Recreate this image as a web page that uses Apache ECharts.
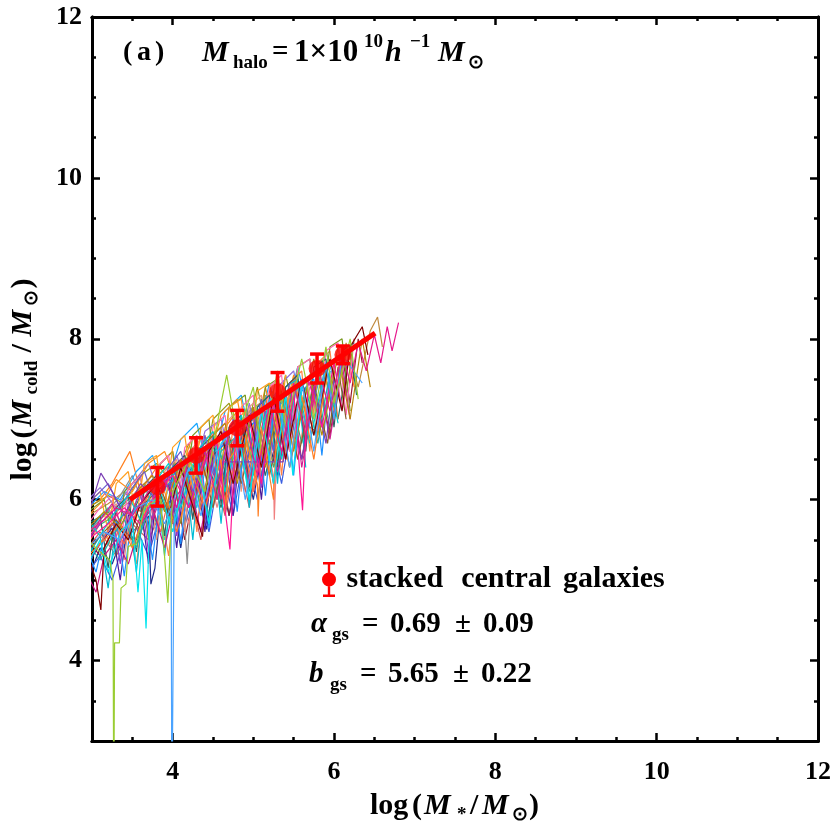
<!DOCTYPE html>
<html>
<head>
<meta charset="utf-8">
<script src="https://cdn.jsdelivr.net/npm/echarts@6/dist/echarts.min.js"></script>
<style>
  html, body { margin: 0; padding: 0; background: #fff; }
  #chart { width: 834px; height: 834px; }
</style>
</head>
<body>
<div id="chart"></div>
<script>
// axis ticks
const xMajor = [4, 6, 8, 10, 12];
const xMinor = [3.5, 4.5, 5, 5.5, 6.5, 7, 7.5, 8.5, 9, 9.5, 10.5, 11, 11.5];
const yMajor = [4, 6, 8, 10, 12];
const yMinor = [3.5, 4.5, 5, 5.5, 6.5, 7, 7.5, 8.5, 9, 9.5, 10.5, 11, 11.5];

// stacked central galaxies (points + error bars)
const stackX = [3.81, 4.29, 4.80, 5.30, 5.79, 6.11];
const stackY = [6.16, 6.55, 6.89, 7.34, 7.63, 7.80];
const stackErr = [0.24, 0.22, 0.22, 0.24, 0.18, 0.11];

// fitted relation
const fitX = [3.47, 6.51];
const fitY = [6.00, 8.07];

// individual galaxy tracks, [logM*, logMcold]
const trackMagenta = [[2.95,5.6],[3.15,5.75],[3.3,5.9],[3.5,5.8],[3.7,6.1],[3.9,6.25],[4.05,5.9],[4.2,6.5],[4.4,6.6],[4.55,6.0],[4.7,6.85],[4.9,7.0],[5.05,6.3],[5.2,7.2],[5.35,6.6],[5.5,7.45],[5.65,6.8],[5.8,7.65],[5.95,7.1],[6.1,7.85],[6.2,7.45],[6.3,7.95],[6.4,7.6],[6.5,8.05],[6.58,7.7],[6.66,8.15],[6.72,7.85],[6.8,8.2]];
const trackTan = [[2.95,5.8],[3.2,5.95],[3.4,6.1],[3.6,5.85],[3.8,6.3],[4.0,6.45],[4.2,6.1],[4.4,6.75],[4.6,6.9],[4.75,6.2],[4.95,7.1],[5.15,7.25],[5.3,6.5],[5.5,7.5],[5.65,6.7],[5.85,7.75],[6.0,7.0],[6.15,7.95],[6.3,7.4],[6.45,8.1],[6.54,8.27],[6.6,7.9]];
const trackDarkRed = [[2.95,5.5],[3.1,5.3],[3.25,5.6],[3.45,5.9],[3.6,5.6],[3.8,6.15],[4.0,6.3],[4.15,5.5],[4.35,6.5],[4.55,6.7],[4.7,5.8],[4.9,6.9],[5.1,7.15],[5.25,6.2],[5.45,7.35],[5.6,6.5],[5.8,7.55],[5.95,6.8],[6.1,7.8],[6.2,7.2],[6.3,8.0],[6.35,7.7]];
const trackTeal = [[2.95,5.7],[3.2,5.85],[3.4,5.6],[3.6,6.05],[3.8,6.2],[4.0,5.7],[4.2,6.45],[4.4,6.6],[4.6,5.9],[4.8,6.85],[5.0,7.0],[5.15,6.3],[5.35,7.25],[5.55,7.45],[5.7,6.9],[5.79,6.84],[5.9,7.65],[6.05,7.0],[6.2,7.9],[6.28,7.3]];
const trackLime = [[2.95,5.5],[3.1,5.35],[3.22,5.25],[3.26,5.0],[3.27,2.0],[3.28,4.22],[3.34,4.22],[3.36,4.9],[3.42,4.95],[3.45,5.42],[3.55,5.45],[3.65,5.9],[3.72,5.95],[3.85,6.0],[3.94,4.72],[4.0,6.1],[4.2,6.5],[4.4,6.1],[4.6,7.2],[4.67,7.55],[4.8,6.8],[5.0,7.4],[5.1,6.6],[5.3,7.6],[5.4,6.9],[5.6,7.75],[5.75,7.0],[5.9,7.9],[6.0,7.2],[6.2,8.0],[6.3,7.25]];
const trackBlue = [[2.95,5.4],[3.15,5.6],[3.35,5.5],[3.55,5.9],[3.75,6.0],[3.9,5.7],[3.98,5.9],[3.99,2.0],[4.02,5.8],[4.2,6.4],[4.35,5.8],[4.55,6.6],[4.75,6.9],[4.9,6.0],[5.1,7.1],[5.3,7.35],[5.45,6.4],[5.6,7.5],[5.75,6.6],[5.9,7.7],[6.0,7.0],[6.1,7.8],[6.35,7.45]];
const trackCyan = [[2.95,5.2],[3.1,5.5],[3.2,5.1],[3.35,5.6],[3.5,5.75],[3.57,4.85],[3.62,5.5],[3.67,4.4],[3.72,5.9],[3.85,6.1],[4.0,5.6],[4.15,6.3],[4.3,6.5],[4.45,5.7],[4.6,6.7],[4.8,6.95],[4.95,6.0],[5.1,7.1],[5.25,6.2],[5.4,7.3],[5.49,6.3],[5.6,7.4],[5.8,7.65]];
const trackCyan2 = [[2.95,5.6],[3.2,5.9],[3.4,5.4],[3.55,6.0],[3.75,6.2],[3.9,5.5],[4.1,6.4],[4.3,5.9],[4.5,6.8],[4.7,6.3],[4.9,7.1],[5.05,6.4],[5.25,7.3],[5.4,6.6],[5.55,7.5]];
const trackOrange = [[2.95,5.9],[3.1,6.0],[3.25,6.2],[3.47,6.6],[3.6,6.1],[3.8,6.4],[4.0,6.6],[4.15,5.9],[4.35,6.8],[4.5,6.0],[4.65,6.9],[4.8,7.1],[4.95,6.3],[5.15,7.3],[5.3,6.5],[5.5,7.5],[5.65,6.8],[5.85,7.7],[6.0,7.1],[6.15,7.9],[6.25,7.4]];
const trackOrange2 = [[2.95,5.3],[3.15,5.5],[3.35,5.7],[3.5,5.4],[3.7,5.95],[3.9,6.1],[4.05,5.6],[4.25,6.3],[4.4,5.9],[4.6,6.5],[4.65,5.84],[4.7,6.5],[4.9,6.8],[5.05,6.19],[5.06,5.79],[5.1,6.9],[5.25,6.0],[5.3,7.1],[5.45,6.4],[5.6,7.3],[5.75,6.5],[5.9,7.5]];
const trackPurple = [[2.95,5.8],[3.11,6.33],[3.25,6.1],[3.4,5.8],[3.6,6.2],[3.8,6.0],[4.0,6.4],[4.2,5.9],[4.4,6.6],[4.55,6.2],[4.62,6.47],[5.37,6.47],[5.45,7.1],[5.6,6.5],[5.75,7.4],[5.9,6.7],[6.0,7.5]];
const trackNavy = [[2.95,5.0],[3.1,5.4],[3.25,5.2],[3.4,5.6],[3.55,5.5],[3.7,5.8],[3.73,4.95],[3.78,5.15],[3.85,5.9],[4.0,6.0],[4.1,5.4],[4.25,6.3],[4.42,5.63],[4.55,6.5],[4.7,5.8],[4.85,6.7],[5.0,6.0],[5.15,6.9],[5.3,6.3],[5.45,7.1]];
const trackGray = [[2.95,5.6],[3.15,5.8],[3.35,6.05],[3.5,6.3],[3.65,5.9],[3.85,6.3],[4.0,6.1],[4.1,6.5],[4.18,5.2],[4.25,6.4],[4.45,6.7],[4.6,6.0],[4.8,6.9],[5.0,7.15],[5.1,6.3],[5.3,7.35],[5.45,6.6],[5.6,7.5],[5.75,6.8],[5.9,7.7]];
const trackMaroon = [[2.95,5.3],[3.05,5.0],[3.11,4.63],[3.15,5.4],[3.3,5.7],[3.45,5.5],[3.6,5.95],[3.8,6.2],[3.95,5.8],[4.1,6.4],[4.37,5.54],[4.45,6.6],[4.6,6.85],[4.75,6.2],[4.95,7.05],[5.1,6.4],[5.25,7.3],[5.4,6.5],[5.6,7.5],[5.75,6.8],[5.95,7.75],[6.1,7.1],[6.2,7.9],[6.35,8.15],[6.42,7.8]];
const trackPink = [[2.95,5.5],[3.2,5.7],[3.4,5.9],[3.6,5.7],[3.8,6.1],[4.0,6.3],[4.2,5.9],[4.4,6.5],[4.55,6.7],[4.71,5.38],[4.78,6.8],[4.95,7.0],[5.1,6.2],[5.25,7.2],[5.4,6.5],[5.5,7.35],[5.61,5.87],[5.68,7.5],[5.85,6.9],[6.0,7.7],[6.1,7.12]];
const trackSalmon = [[2.95,5.7],[3.15,5.5],[3.3,5.85],[3.5,6.0],[3.65,5.6],[3.85,6.2],[4.05,6.35],[4.2,5.7],[4.4,6.55],[4.55,5.9],[4.75,6.75],[4.9,6.1],[5.1,7.0],[5.25,6.3],[5.26,5.75],[5.3,6.9],[5.4,7.2],[5.55,6.5],[5.7,7.4]];
const trackOlive = [[2.95,5.9],[3.2,6.05],[3.4,5.95],[3.6,6.3],[3.8,6.45],[4.0,6.2],[4.2,6.7],[4.35,6.2],[4.5,7.0],[4.7,7.2],[4.85,6.6],[5.05,7.4],[5.2,6.7],[5.4,7.55],[5.55,6.9],[5.75,7.75],[5.9,7.1],[6.05,7.9],[6.15,7.3],[6.25,8.0]];
const trackRoyal = [[2.95,5.1],[3.1,5.3],[3.25,5.0],[3.4,5.5],[3.55,5.65],[3.7,5.3],[3.85,5.85],[4.0,6.0],[4.1,5.5],[4.3,6.2],[4.45,5.6],[4.6,6.45],[4.75,5.8],[4.9,6.65],[5.05,6.0],[5.2,6.9],[5.35,6.2],[5.5,7.1]];
const trackSky = [[2.95,5.9],[3.15,6.1],[3.35,6.0],[3.55,6.35],[3.75,6.55],[3.9,6.1],[4.1,6.75],[4.3,6.95],[4.45,6.3],[4.65,7.1],[4.85,7.3],[5.0,6.6],[5.2,7.45],[5.35,6.8],[5.55,7.65],[5.7,7.0],[5.9,7.85],[6.05,7.3]];
const trackLavender = [[2.95,6.0],[3.1,6.15],[3.3,5.9],[3.5,6.2],[3.7,6.45],[3.85,6.0],[4.05,6.55],[4.2,6.1],[4.4,6.85],[4.6,7.0],[4.75,6.3],[4.95,7.2],[5.1,6.5],[5.3,7.4],[5.5,7.6],[5.65,6.9]];
const trackIndian = [[2.95,5.4],[3.1,5.6],[3.3,5.3],[3.5,5.7],[3.7,5.5],[3.9,5.95],[4.05,5.6],[4.2,6.15],[4.35,5.5],[4.5,6.4],[4.65,5.8],[4.8,6.6],[4.95,5.9],[5.1,6.8]];
const trackSea = [[2.95,5.6],[3.2,5.75],[3.45,6.0],[3.65,6.2],[3.8,5.7],[4.0,6.3],[4.2,6.55],[4.35,5.9],[4.55,6.75],[4.7,6.1],[4.9,6.95],[5.1,7.15],[5.25,6.4],[5.45,7.35],[5.6,6.7],[5.8,7.6],[5.95,6.9],[6.1,7.75]];
const trackLight = [[2.95,5.15],[3.05,5.4],[3.2,5.6],[3.35,5.3],[3.5,5.8],[3.65,6.0],[3.8,5.6],[3.95,6.15],[4.1,6.3],[4.25,5.8],[4.4,6.45]];
const trackDarkOrange = [[2.95,5.8],[3.15,6.0],[3.3,6.25],[3.5,6.1],[3.7,6.45],[3.9,6.6],[4.05,6.2],[4.25,6.8],[4.4,6.3],[4.6,7.05],[4.8,7.25],[4.95,6.5],[5.15,7.4],[5.3,6.7],[5.5,7.55],[5.65,6.8],[5.85,7.7],[6.0,7.1],[6.1,7.85]];
const trackViolet = [[2.95,5.5],[3.1,5.75],[3.25,5.95],[3.4,5.6],[3.6,6.1],[3.75,5.75],[3.95,6.3],[4.1,6.5],[4.25,5.9],[4.45,6.65],[4.6,6.0],[4.8,6.9],[4.95,6.2],[5.15,7.1],[5.3,6.35],[5.5,7.3],[5.6,6.4],[5.8,7.55],[5.95,6.75],[6.1,7.7],[6.2,7.0]];
const trackBrown = [[2.95,5.35],[3.1,5.55],[3.3,5.75],[3.5,5.5],[3.65,5.95],[3.85,6.15],[4.0,5.75],[4.2,6.35],[4.35,6.55],[4.5,5.9],[4.7,6.8],[4.85,6.2],[5.05,7.0],[5.2,6.3],[5.4,7.25],[5.55,6.5],[5.75,7.45],[5.92,6.7],[6.05,7.65],[6.15,7.0]];
const trackSlate = [[2.95,5.95],[3.1,6.1],[3.2,6.2],[3.35,5.9],[3.5,6.15],[3.65,6.35],[3.8,5.9],[3.95,6.4],[4.1,6.6],[4.25,6.1],[4.4,6.8],[4.55,6.2],[4.75,7.0],[4.9,6.4],[5.1,7.25],[5.25,6.6],[5.45,7.45]];
const trackTomato = [[2.95,5.25],[3.1,5.45],[3.25,5.7],[3.4,5.45],[3.55,5.85],[3.7,6.05],[3.85,5.6],[4.0,6.2],[4.15,6.4],[4.3,5.7],[4.5,6.6],[4.65,5.9],[4.85,6.85],[5.0,6.1],[5.2,7.05]];
const trackLightSea = [[2.95,5.45],[3.1,5.25],[3.25,5.55],[3.4,5.75],[3.55,5.4],[3.7,5.9],[3.85,6.05],[4.0,5.6],[4.15,6.25],[4.3,6.45],[4.45,5.8],[4.6,6.6],[4.8,6.8],[4.95,6.1],[5.15,7.0],[5.3,7.2],[5.45,6.4],[5.65,7.4],[5.8,6.7],[5.95,7.6]];
const trackMedViolet = [[2.95,5.05],[3.05,4.85],[3.15,5.3],[3.3,5.5],[3.45,5.2],[3.6,5.7],[3.75,5.9],[3.9,5.4],[4.05,6.05],[4.2,6.25],[4.35,5.6],[4.5,6.45]];
const trackTurquoise = [[2.95,5.75],[3.1,5.55],[3.25,5.8],[3.45,6.05],[3.6,5.75],[3.8,6.25],[3.95,6.45],[4.1,5.9],[4.3,6.6],[4.5,6.85],[4.65,6.1],[4.85,7.05],[5.0,6.4],[5.2,7.25],[5.35,6.5],[5.55,7.45],[5.7,6.7],[5.9,7.7],[6.05,6.95]];
const trackGold = [[2.95,5.65],[3.15,5.85],[3.35,5.65],[3.55,6.1],[3.75,6.3],[3.9,5.85],[4.1,6.5],[4.25,6.0],[4.45,6.75],[4.65,6.95],[4.8,6.2],[5.0,7.15],[5.15,6.4],[5.35,7.35],[5.5,6.6],[5.7,7.55],[5.85,6.8],[6.05,7.8],[6.2,7.0],[6.35,8.0],[6.45,7.4]];
const trackCoral = [[2.95,5.45],[3.1,5.7],[3.25,5.4],[3.4,5.85],[3.55,5.2],[3.65,5.95],[3.8,6.15],[3.95,5.3],[4.05,6.3],[4.2,6.5],[4.3,5.6],[4.4,6.6],[4.55,6.8],[4.65,5.9],[4.75,6.95],[4.9,7.1],[5.0,6.1],[5.1,7.2],[5.25,7.35],[5.35,6.3],[5.45,7.45],[5.6,7.6],[5.7,6.6],[5.8,7.7],[5.95,7.85],[6.05,7.0]];
const trackDrab = [[2.95,5.85],[3.15,6.0],[3.3,5.3],[3.4,6.1],[3.6,6.3],[3.7,5.5],[3.85,6.45],[4.0,6.6],[4.1,5.7],[4.25,6.8],[4.45,7.0],[4.55,6.0],[4.7,7.15],[4.9,7.3],[5.0,6.3],[5.15,7.4],[5.3,7.5],[5.4,6.5],[5.55,7.65],[5.7,7.75],[5.8,6.8],[5.95,7.9],[6.1,8.0],[6.2,7.1]];
const trackAqua = [[2.95,5.3],[3.1,5.55],[3.2,4.9],[3.3,5.7],[3.45,5.9],[3.55,5.1],[3.65,6.0],[3.8,6.2],[3.9,5.3],[4.0,6.3],[4.15,6.45],[4.25,5.5],[4.35,6.6],[4.5,6.75],[4.6,5.7],[4.7,6.9],[4.85,7.05],[4.95,5.9],[5.05,7.15],[5.2,7.3],[5.3,6.2],[5.4,7.4],[5.55,7.5],[5.65,6.4]];
const trackDarkSalmon = [[2.95,5.55],[3.15,5.75],[3.3,5.95],[3.4,5.25],[3.5,6.05],[3.7,6.25],[3.8,5.5],[3.9,6.35],[4.05,6.5],[4.15,5.6],[4.25,6.65],[4.4,6.8],[4.5,5.9],[4.6,6.9],[4.75,7.05],[4.85,6.1],[4.95,7.15],[5.1,7.3],[5.2,6.35],[5.3,7.4]];
const trackIndigo = [[2.95,5.2],[3.1,5.45],[3.25,5.65],[3.35,5.0],[3.45,5.8],[3.6,5.95],[3.7,5.2],[3.8,6.05],[3.95,6.2],[4.05,5.4],[4.15,6.3],[4.3,6.45],[4.4,5.6],[4.5,6.55],[4.65,6.7],[4.75,5.8],[4.85,6.8],[5.0,6.95],[5.1,6.0],[5.2,7.05]];
const trackHotPink = [[2.95,5.7],[3.1,5.9],[3.25,6.05],[3.35,5.4],[3.45,6.15],[3.6,6.3],[3.7,5.6],[3.8,6.4],[3.95,6.55],[4.05,5.8],[4.15,6.65],[4.3,6.8],[4.4,6.0],[4.5,6.9],[4.65,7.05],[4.75,6.2],[4.85,7.15],[5.0,7.3],[5.1,6.4],[5.2,7.4],[5.35,7.55],[5.45,6.6],[5.55,7.65],[5.7,7.75],[5.8,6.85],[5.9,7.85],[6.05,7.95],[6.15,7.05],[6.25,8.0]];
const trackDarkSlate = [[2.95,5.6],[3.1,5.8],[3.2,5.15],[3.3,5.9],[3.45,6.05],[3.55,5.35],[3.65,6.15],[3.8,6.3],[3.9,5.55],[4.0,6.4],[4.15,6.55],[4.25,5.75],[4.35,6.65],[4.5,6.8],[4.6,5.95],[4.7,6.9],[4.85,7.05],[4.95,6.15],[5.05,7.15],[5.2,7.3],[5.3,6.4],[5.4,7.4],[5.55,7.55],[5.65,6.6],[5.75,7.65],[5.9,7.75],[6.0,6.9],[6.1,7.85],[6.25,7.95]];
const trackAmber = [[2.95,5.95],[3.1,6.1],[3.2,5.6],[3.3,6.2],[3.45,6.35],[3.55,5.75],[3.65,6.45],[3.8,6.55],[3.9,5.9],[4.0,6.65],[4.15,6.8],[4.25,6.1],[4.35,6.9],[4.5,7.05],[4.6,6.3],[4.7,7.15],[4.85,7.25],[4.95,6.5],[5.05,7.35],[5.2,7.45],[5.3,6.7],[5.4,7.55]];
const trackDodger = [[2.95,5.35],[3.05,5.1],[3.15,5.55],[3.3,5.75],[3.4,5.05],[3.5,5.85],[3.65,6.0],[3.75,5.25],[3.85,6.1],[4.0,6.25],[4.1,5.45],[4.2,6.35],[4.35,6.5],[4.45,5.65],[4.55,6.6],[4.7,6.75],[4.8,5.85],[4.9,6.85],[5.05,7.0],[5.15,6.05],[5.25,7.1],[5.4,7.25],[5.5,6.3],[5.6,7.35],[5.75,7.5],[5.85,6.55],[5.95,7.6]];
const trackOrchid = [[2.95,5.5],[3.1,5.7],[3.25,5.85],[3.35,5.2],[3.45,5.95],[3.6,6.1],[3.7,5.35],[3.8,6.2],[3.95,6.35],[4.05,5.55],[4.15,6.45],[4.3,6.6],[4.4,5.75],[4.5,6.7],[4.65,6.85],[4.75,5.95],[4.85,6.95],[5.0,7.1],[5.1,6.15],[5.2,7.2]];

const tracks = [
  [trackNavy, '#1f2a8a'], [trackTan, '#c08a3e'], [trackDarkRed, '#9b1b30'], [trackTeal, '#227a6a'],
  [trackCyan2, '#19d3e6'], [trackOrange, '#ff7f1e'], [trackGray, '#8f8f8f'], [trackSalmon, '#f08080'],
  [trackOlive, '#9a9a1a'], [trackRoyal, '#3b5fe0'], [trackSky, '#1aa7ff'], [trackLavender, '#9370db'],
  [trackIndian, '#cd5c5c'], [trackSea, '#3cb371'], [trackLight, '#66ccee'], [trackDarkOrange, '#ff8c1a'],
  [trackCoral, '#ff8247'], [trackDrab, '#7a9a23'], [trackAqua, '#00bcd4'], [trackDarkSalmon, '#e9967a'],
  [trackIndigo, '#4b1a9a'], [trackHotPink, '#ff69b4'], [trackDarkSlate, '#2f5f5f'], [trackAmber, '#ffa020'],
  [trackDodger, '#1e90ff'], [trackOrchid, '#9932cc'],
  [trackViolet, '#d02090'], [trackBrown, '#8b5a2b'], [trackSlate, '#6a5acd'], [trackTomato, '#ff6347'],
  [trackLightSea, '#20b2aa'], [trackMedViolet, '#c71585'], [trackTurquoise, '#00ced1'], [trackGold, '#b8860b'],
  [trackPurple, '#7b3fb5'], [trackOrange2, '#ff7f24'], [trackPink, '#ff1493'], [trackMaroon, '#800000'],
  [trackCyan, '#00e5ee'], [trackBlue, '#4aa3ff'], [trackLime, '#9acd32'], [trackMagenta, '#e6198c']
];

const serif = 'Liberation Serif';
const chart = echarts.init(document.getElementById('chart'), null, { renderer: 'canvas' });

function axisFor(kind, pos, ticks, len, withLabels) {
  const ax = {
    type: 'value', min: 3, max: 12, position: pos,
    axisLine: { show: true, onZero: false, lineStyle: { color: '#000', width: 3 } },
    axisTick: { show: true, inside: true, length: len, customValues: ticks, lineStyle: { color: '#000', width: 2.5 } },
    axisLabel: { show: false },
    splitLine: { show: false }
  };
  if (withLabels) {
    ax.axisLabel = {
      show: true, customValues: ticks, margin: kind === 'x' ? 18 : 10,
      fontFamily: serif, fontWeight: 'bold', fontSize: 26, color: '#000'
    };
  }
  return ax;
}

// rich styles for axis names
function up(w) { return { fontFamily: serif, fontWeight: 'bold', fontSize: 30, color: '#000', lineHeight: 38, width: w, align: 'left' }; }
function it(w) { return { fontFamily: serif, fontWeight: 'bold', fontStyle: 'italic', fontSize: 30, color: '#000', lineHeight: 38, width: w, align: 'left' }; }
function sb(w) { return { fontFamily: serif, fontWeight: 'bold', fontSize: 19, color: '#000', lineHeight: 19, verticalAlign: 'bottom', width: w, align: 'left' }; }

const xMain = axisFor('x', 'bottom', xMajor, 8, true);
xMain.name = '{lg|log}{lp|(}{m|M}{st|*}{sl|/}{m2|M}{sn|⊙}{rp|)}';
xMain.nameLocation = 'middle';
xMain.nameGap = 46;
xMain.nameTextStyle = {
  rich: { lg: up(42), lp: up(12), m: it(33), st: sb(13), sl: up(12), m2: it(30), sn: sb(17), rp: up(11) }
};

const yMain = axisFor('y', 'left', yMajor, 8, true);
yMain.name = '{lg|log}{lp|(}{m|M}{cd|cold}{sl|/}{m2|M}{sn|⊙}{rp|)}';
yMain.nameLocation = 'middle';
yMain.nameGap = 50;
yMain.nameRotate = 90;
yMain.nameTextStyle = {
  rich: { lg: up(42), lp: up(12), m: it(32), cd: sb(42), sl: up(16), m2: it(31), sn: sb(17), rp: up(11) }
};

const series = tracks.map(([pts, color]) => ({
  type: 'line', data: pts, xAxisIndex: 0, yAxisIndex: 0,
  showSymbol: false, symbol: 'none', clip: true, silent: true,
  lineStyle: { color: color, width: 1.2 }
}));

series.push({
  type: 'line', xAxisIndex: 0, yAxisIndex: 0,
  data: fitX.map((x, i) => [x, fitY[i]]),
  showSymbol: false, symbol: 'none',
  lineStyle: { color: '#ff0000', width: 5 }, z: 5
});

series.push({
  type: 'custom', name: 'stacked central galaxies', xAxisIndex: 0, yAxisIndex: 0, z: 6,
  data: stackX.map((x, i) => [x, stackY[i] - stackErr[i], stackY[i] + stackErr[i]]),
  renderItem: function (params, api) {
    const x = api.value(0);
    const lo = api.coord([x, api.value(1)]);
    const hi = api.coord([x, api.value(2)]);
    const cap = 7;
    const st = { stroke: '#ff0000', lineWidth: 3.5 };
    return {
      type: 'group',
      children: [
        { type: 'line', shape: { x1: lo[0], y1: lo[1], x2: hi[0], y2: hi[1] }, style: st },
        { type: 'line', shape: { x1: hi[0] - cap, y1: hi[1], x2: hi[0] + cap, y2: hi[1] }, style: st },
        { type: 'line', shape: { x1: lo[0] - cap, y1: lo[1], x2: lo[0] + cap, y2: lo[1] }, style: st }
      ]
    };
  }
});

series.push({
  type: 'scatter', name: 'stacked central galaxies', xAxisIndex: 0, yAxisIndex: 0, z: 7,
  data: stackX.map((x, i) => [x, stackY[i]]),
  symbol: 'circle', symbolSize: 17,
  itemStyle: { color: '#ff0000' }
});

const B = { fontFamily: serif, fontWeight: 'bold', fill: '#000' };
const annRich = {
  p1: Object.assign({ fontSize: 28, lineHeight: 40, width: 14 }, B),
  pa: Object.assign({ fontSize: 28, lineHeight: 40, width: 18 }, B),
  p2: Object.assign({ fontSize: 28, lineHeight: 40, width: 47 }, B),
  m1: Object.assign({ fontSize: 30, fontStyle: 'italic', lineHeight: 40, width: 31 }, B),
  halo: Object.assign({ fontSize: 19, lineHeight: 19, verticalAlign: 'bottom', width: 39 }, B),
  eq: Object.assign({ fontSize: 29, lineHeight: 40, width: 22 }, B),
  num: Object.assign({ fontSize: 31, lineHeight: 40, width: 70 }, B),
  sup1: Object.assign({ fontSize: 19, lineHeight: 19, verticalAlign: 'top', width: 21 }, B),
  h: Object.assign({ fontSize: 30, fontStyle: 'italic', lineHeight: 40, width: 25 }, B),
  sup2: Object.assign({ fontSize: 19, lineHeight: 19, verticalAlign: 'top', width: 28 }, B),
  m2: Object.assign({ fontSize: 30, fontStyle: 'italic', lineHeight: 40, width: 30 }, B),
  sun: Object.assign({ fontSize: 19, lineHeight: 19, verticalAlign: 'bottom' }, B),
  // alpha / b lines
  ga: Object.assign({ fontSize: 29, fontStyle: 'italic', lineHeight: 40, width: 21 }, B),
  gs: Object.assign({ fontSize: 19, lineHeight: 19, verticalAlign: 'bottom', width: 30 }, B),
  e2: Object.assign({ fontSize: 29, lineHeight: 40, width: 28 }, B),
  v1: Object.assign({ fontSize: 29, lineHeight: 40, width: 65 }, B),
  pm: Object.assign({ fontSize: 29, lineHeight: 40, width: 28 }, B),
  v2: Object.assign({ fontSize: 29, lineHeight: 40 }, B)
};

const option = {
  animation: false,
  backgroundColor: '#fff',
  grid: { left: 92, right: 16, top: 17, bottom: 93, containLabel: false, outerBoundsMode: 'none' },
  xAxis: [
    xMain,
    axisFor('x', 'bottom', xMinor, 4, false),
    axisFor('x', 'top', xMajor, 8, false),
    axisFor('x', 'top', xMinor, 4, false)
  ],
  yAxis: [
    yMain,
    axisFor('y', 'left', yMinor, 4, false),
    axisFor('y', 'right', yMajor, 8, false),
    axisFor('y', 'right', yMinor, 4, false)
  ],
  legend: {
    data: [{
      name: 'stacked central galaxies',
      icon: 'path://M1,0H13V2.5H1Z M5.8,0H8.2V35H5.8Z M1,32.5H13V35H1Z M14,17.5A7,7 0 1 1 0,17.5A7,7 0 1 1 14,17.5Z',
      itemStyle: { color: '#ff0000' }
    }],
    left: 317, top: 557, itemWidth: 15, itemHeight: 35,
    formatter: function () {
      return '{g0| }{w|stacked}{g1| }{w|central}{g2| }{w|galaxies}';
    },
    textStyle: {
      rich: {
        w: { fontFamily: serif, fontWeight: 'bold', fontSize: 30, color: '#000' },
        g0: { width: 5 }, g1: { width: 18 }, g2: { width: 12 }
      }
    }
  },
  graphic: [
    {
      type: 'text', x: 123, y: 53,
      style: {
        verticalAlign: 'middle',
        text: '{p1|(}{pa|a}{p2|)}{m1|M}{halo|halo}{eq|=}{num|1×10}{sup1|10}{h|h}{sup2|−1}{m2|M}{sun|⊙}',
        rich: annRich
      }
    },
    {
      type: 'text', x: 311, y: 625,
      style: { verticalAlign: 'middle', text: '{ga|α}{gs|gs}{e2|=}{v1|0.69}{pm|±}{v2|0.09}', rich: annRich }
    },
    {
      type: 'text', x: 309, y: 675,
      style: { verticalAlign: 'middle', text: '{ga|b}{gs|gs}{e2|=}{v1|5.65}{pm|±}{v2|0.22}', rich: annRich }
    }
  ],
  series: series
};

chart.setOption(option);
</script>
</body>
</html>
